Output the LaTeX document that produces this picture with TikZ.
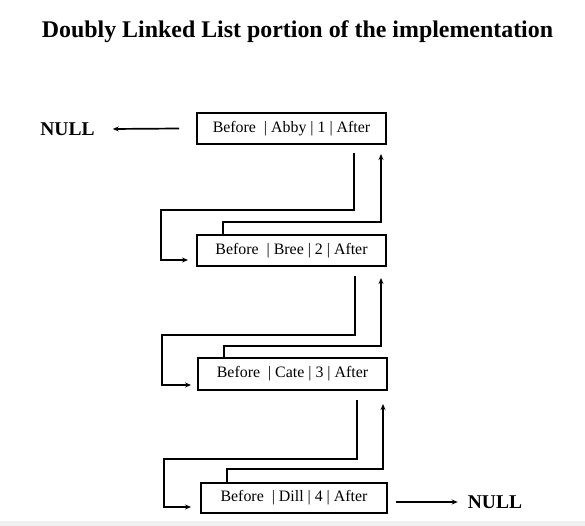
\documentclass[tikz,border=0pt]{standalone}
\usepackage{fontspec}
\setmainfont{Liberation Serif}
\usetikzlibrary{arrows.meta}

\tikzset{
	listbox/.style={draw, line width=2pt, minimum width=189pt, minimum height=31pt, inner sep=0pt, font=\fontsize{15.9}{18}\selectfont},
	ptr/.style={line width=1.7pt, -{Stealth[length=6pt,width=5pt]}},
	nulltext/.style={font=\fontsize{19.5}{21}\selectfont\bfseries, inner sep=0pt}
}

\begin{document}
\begin{tikzpicture}[x=1pt, y=-1pt]
		\useasboundingbox (0,0) rectangle (585,526);
		\fill[gray!12] (0,521) rectangle (585,526);
		\node (title) at (297.5,32) {\fontsize{23.9}{27}\selectfont\bfseries Doubly Linked List portion of the implementation};
		% nodes of the list
		\node [listbox] (abby) at (291.5,128.5) {Before\ \ | Abby | 1 | After};
		\node [listbox] (bree) at (291.5,250.5) {Before\ \ | Bree | 2 | After};
		\node [listbox, minimum height=32pt] (cate) at (292.5,374) {Before\ \ | Cate | 3 | After};
		\node [listbox, minimum width=186pt, minimum height=30pt] (dill) at (294,498) {Before\ \ | Dill | 4 | After};
		\node [nulltext] (nullL) at (67.5,129) {NULL};
		\node [nulltext] (nullR) at (495,502) {NULL};
		% ends of the list
		\draw [ptr] ([xshift=-17pt]abby.west) -- ([xshift=18pt]nullL.east);
		\draw [ptr] ([xshift=8pt,yshift=-4pt]dill.east) -- ([xshift=-10pt,yshift=0pt]nullR.west);
		% After pointers
		\draw [ptr] ([xshift=-33pt,yshift=-8pt]abby.south east) -- ++(0,57) -- ++(-193,0) |- ([xshift=-8pt,yshift=-9.5pt]bree.west);
		\draw [ptr] ([xshift=-32pt,yshift=-9pt]bree.south east) -- ++(0,59) -- ++(-193,0) |- ([xshift=-6pt,yshift=-11pt]cate.west);
		\draw [ptr] ([xshift=-31pt,yshift=-9pt]cate.south east) -- ++(0,59) -- ++(-193,0) |- ([xshift=-9pt,yshift=-9pt]dill.west);
		% Before pointers
		\draw [ptr] ([xshift=-68.5pt]bree.north) -- ++(0,-12) -| ([xshift=-6pt,yshift=-9pt]abby.south east);
		\draw [ptr] ([xshift=-68.5pt]cate.north) -- ++(0,-11) -| ([xshift=-6pt,yshift=-11pt]bree.south east);
		\draw [ptr] ([xshift=-67pt]dill.north) -- ++(0,-13) -| ([xshift=-5pt,yshift=-13pt]cate.south east);
	\end{tikzpicture}
\end{document}
